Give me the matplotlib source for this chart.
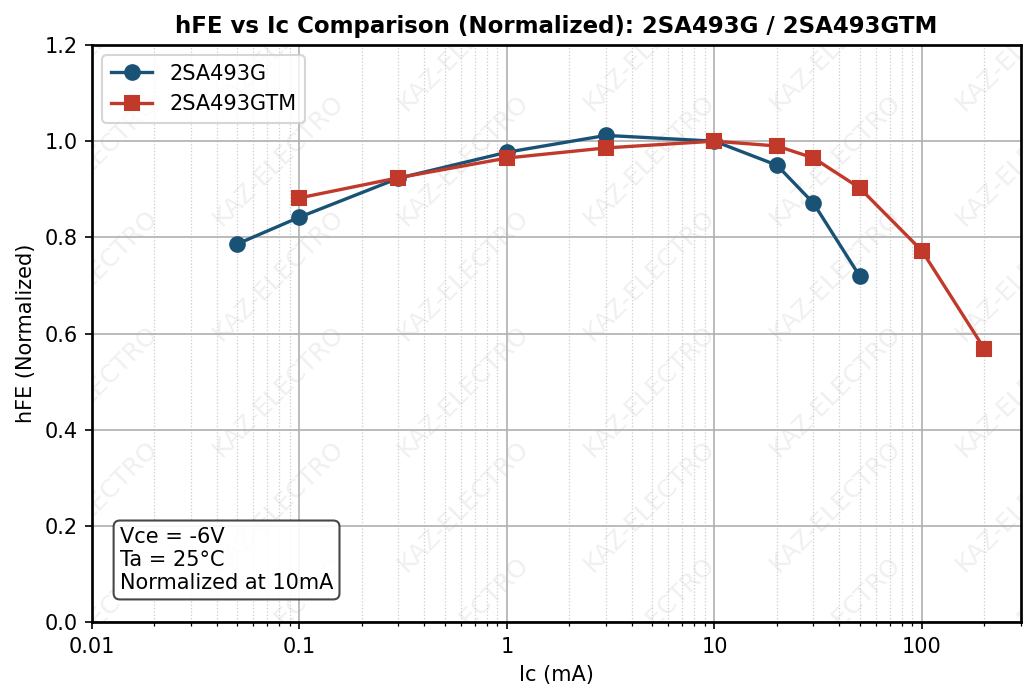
import numpy as np
import matplotlib
matplotlib.use("Agg")
import matplotlib.pyplot as plt
import matplotlib.ticker as mtick

# Data (Ic in mA, hFE normalized at 10 mA)
ic_g = [0.05, 0.1, 0.3, 1, 3, 10, 20, 30, 50]
hfe_g = [0.786, 0.842, 0.923, 0.977, 1.012, 1.0, 0.950, 0.871, 0.720]

ic_gtm = [0.1, 0.3, 1, 3, 10, 20, 30, 50, 100, 200]
hfe_gtm = [0.882, 0.924, 0.965, 0.986, 1.0, 0.990, 0.965, 0.903, 0.772, 0.568]

labels = ["2SA493G", "2SA493GTM"]
x_ticks = [0.01, 0.1, 1, 10, 100]
y_ticks = [0.0, 0.2, 0.4, 0.6, 0.8, 1.0, 1.2]

fig = plt.figure(figsize=(1036 / 150, 700 / 150), dpi=150)
ax = fig.add_axes([0.0888, 0.1114, 0.8967, 0.8243])

# Watermark tiled over the axes
for fx in np.arange(0, 1.01, 0.2):
    for fy in np.arange(0, 1.01, 0.2):
        ax.text(fx, fy, "KAZ-ELECTRO", transform=ax.transAxes,
                fontsize=12, color="gray", alpha=0.12, rotation=45,
                ha="center", va="center", clip_on=True, zorder=0)

ax.plot(ic_g, hfe_g, marker="o", color="#1a5276", linewidth=1.6,
        markersize=7, label=labels[0], zorder=3)
ax.plot(ic_gtm, hfe_gtm, marker="s", color="#c0392b", linewidth=1.6,
        markersize=7, label=labels[1], zorder=3)

ax.set_xscale("log")
ax.set_xlim(0.01, 300)
ax.set_ylim(0, 1.2)
ax.set_xticks(x_ticks)
ax.set_yticks(y_ticks)
ax.xaxis.set_major_formatter(mtick.FuncFormatter(lambda v, _: f"{v:g}"))

ax.grid(True, which="major", color="#b0b0b0", linewidth=0.8)
ax.grid(True, which="minor", axis="x", color="#cccccc", linestyle=":", linewidth=0.6)
for s in ax.spines.values():
    s.set_linewidth(1.3)

ax.set_title("hFE vs Ic Comparison (Normalized): 2SA493G / 2SA493GTM",
             fontsize=11, fontweight="bold")
ax.set_xlabel("Ic (mA)")
ax.set_ylabel("hFE (Normalized)")
ax.legend(loc="upper left")

ax.text(0.03, 0.05, "Vce = -6V\nTa = 25°C\nNormalized at 10mA",
        transform=ax.transAxes, fontsize=10, va="bottom", ha="left",
        bbox=dict(boxstyle="round", facecolor="white", edgecolor="#333333", alpha=0.9),
        zorder=5)

plt.savefig("out.png", dpi=150)
